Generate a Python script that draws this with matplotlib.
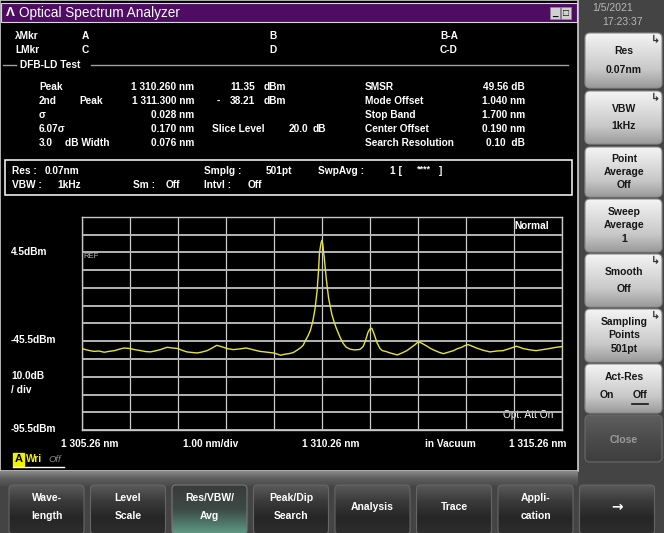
import numpy as np
import matplotlib
matplotlib.use('Agg')
import matplotlib.pyplot as plt
from matplotlib.patches import Rectangle, FancyBboxPatch

plt.rcParams['font.family'] = ['Liberation Sans', 'DejaVu Sans']

# trace (nm, dBm)
wavelength = [1305.26, 1305.35, 1305.45, 1305.52, 1305.62, 1305.73, 1305.83, 1305.94, 1306.04, 1306.14,
              1306.26, 1306.36, 1306.49, 1306.59, 1306.69, 1306.80, 1306.90, 1306.97, 1307.04, 1307.15,
              1307.26, 1307.35, 1307.45, 1307.55, 1307.66, 1307.76, 1307.87, 1307.97, 1308.07, 1308.14,
              1308.21, 1308.30, 1308.42, 1308.55, 1308.69, 1308.83, 1308.97, 1309.10, 1309.25, 1309.32,
              1309.40, 1309.47, 1309.59, 1309.67, 1309.74, 1309.81, 1309.87, 1309.92, 1309.97, 1310.02,
              1310.07, 1310.10, 1310.12, 1310.16, 1310.19, 1310.21, 1310.24, 1310.26, 1310.28, 1310.31,
              1310.35, 1310.40, 1310.47, 1310.52, 1310.56, 1310.64, 1310.70, 1310.76, 1310.85, 1310.95,
              1311.05, 1311.12, 1311.17, 1311.22, 1311.26, 1311.30, 1311.34, 1311.41, 1311.47, 1311.52,
              1311.60, 1311.67, 1311.75, 1311.83, 1311.92, 1312.03, 1312.12, 1312.20, 1312.26, 1312.31,
              1312.38, 1312.45, 1312.53, 1312.62, 1312.70, 1312.79, 1312.90, 1313.00, 1313.08, 1313.17,
              1313.24, 1313.31, 1313.40, 1313.48, 1313.62, 1313.76, 1313.90, 1314.03, 1314.17, 1314.31,
              1314.38, 1314.45, 1314.58, 1314.72, 1314.86, 1315.00, 1315.12, 1315.26]
level = [-49.6, -50.3, -50.9, -51.2, -51.0, -51.7, -51.2, -50.8, -50.0, -49.3,
         -49.6, -50.2, -50.8, -51.3, -51.5, -50.9, -50.2, -49.5, -48.9, -49.3,
         -49.6, -50.6, -51.5, -51.8, -52.1, -51.6, -50.8, -49.4, -47.8, -48.3,
         -48.9, -49.7, -50.2, -49.8, -49.3, -50.3, -51.2, -51.6, -52.1, -52.6,
         -53.4, -52.9, -52.4, -51.8, -50.6, -49.3, -47.8, -45.0, -42.5, -39.5,
         -34.4, -30.0, -26.8, -17.4, -6.1, 4.0, 9.5, 11.35, 9.0, 1.5,
         -9.8, -21.2, -30.6, -35.0, -38.1, -43.3, -46.5, -48.7, -50.0, -50.4,
         -50.1, -48.5, -45.0, -40.5, -38.6, -38.21, -40.8, -46.4, -49.6, -50.8,
         -51.3, -52.0, -52.6, -53.2, -52.2, -50.8, -49.0, -47.4, -46.0, -46.2,
         -47.2, -48.3, -49.7, -50.8, -51.7, -52.5, -51.6, -50.8, -49.7, -48.9,
         -47.9, -47.4, -48.4, -49.3, -50.6, -51.5, -51.0, -50.8, -49.6, -48.3,
         -48.9, -49.6, -50.3, -50.8, -50.2, -49.6, -49.0, -48.5]

marker_rows = [('Peak', '', '1 310.260 nm'), ('2nd', 'Peak', '1 311.300 nm'), ('σ', '', '0.028 nm'),
               ('6.07σ', '', '0.170 nm'), ('3.0', 'dB Width', '0.076 nm')]
result_names = ['SMSR', 'Mode Offset', 'Stop Band', 'Center Offset', 'Search Resolution']
result_values = ['49.56 dB', '1.040 nm', '1.700 nm', '0.190 nm', '0.10  dB']
y_labels = [(252, '4.5dBm'), (340, '-45.5dBm'), (376, '10.0dB'), (390, '/ div'), (429, '-95.5dBm')]
x_labels = [(90, '1 305.26 nm'), (211, '1.00 nm/div'), (331, '1 310.26 nm'), (450, 'in Vacuum'), (538, '1 315.26 nm')]
side_buttons = [(33, 88, ['Res', '0.07nm'], True), (91, 144, ['VBW', '1kHz'], True),
                (147, 197, ['Point', 'Average', 'Off'], False), (199, 252, ['Sweep', 'Average', '1'], False),
                (254, 307, ['Smooth', 'Off'], True), (309, 362, ['Sampling', 'Points', '501pt'], True)]
tabs = [['Wave-', 'length'], ['Level', 'Scale'], ['Res/VBW/', 'Avg'], ['Peak/Dip', 'Search'],
        ['Analysis'], ['Trace'], ['Appli-', 'cation'], ['→']]

W, H = 664, 533
fig = plt.figure(figsize=(W / 100, H / 100), dpi=100)
bg = fig.add_axes([0, 0, 1, 1])
bg.set_axis_off()


def t(x, y, s, size=7.3, color='white', ha='left', weight='bold', **kw):
    bg.text(x, y, s, fontsize=size, color=color, ha=ha, va='center', fontweight=weight, **kw)


def grad_box(x0, y0, x1, y1, stops, rounded=4, edge='none'):
    n = 64
    pos = np.linspace(0, 1, len(stops))
    cols = np.array([matplotlib.colors.to_rgb(c) for c in stops])
    ramp = np.stack([np.interp(np.linspace(0, 1, n), pos, cols[:, k]) for k in range(3)], axis=1)
    img = bg.imshow(ramp[:, None, :], extent=[x0, x1, y1, y0], aspect='auto', zorder=2)
    box = FancyBboxPatch((x0, y0), x1 - x0, y1 - y0, boxstyle='round,pad=0,rounding_size=%d' % rounded,
                         facecolor='none', edgecolor=edge, lw=0.8, zorder=3)
    bg.add_patch(box)
    img.set_clip_path(box)


# backgrounds
bg.add_patch(Rectangle((0, 0), W, H, color='#444444', zorder=0))
bg.add_patch(Rectangle((0, 0), 578, 471, facecolor='black', edgecolor='#cfcfcf', lw=1.2, zorder=1))
bg.add_patch(Rectangle((1, 3), 576, 19, facecolor='#4e0c62', edgecolor='#d8d8d8', lw=0.8, zorder=1))
grad_box(0, 471, 578, 486, ['#8a8a8a', '#5e5e5e', '#4a4a4a'], rounded=0)

# title bar
t(6, 12.5, 'Λ', size=9.5)
t(19, 12.5, 'Optical Spectrum Analyzer', size=9.8, weight='normal')
for bx, glyph in [(550, '_'), (561, '□')]:
    bg.add_patch(Rectangle((bx, 7), 10, 12, facecolor='#d0d0d0', edgecolor='#888888', lw=0.6, zorder=3))
    t(bx + 5, 12.5, glyph, size=7, color='black', ha='center', zorder=4)

# marker header
t(15, 36, 'λMkr'); t(82, 36, 'A'); t(269, 36, 'B'); t(440, 36, 'B-A')
t(15, 50, 'LMkr'); t(82, 50, 'C'); t(269, 50, 'D'); t(440, 50, 'C-D')
bg.plot([3, 16], [65, 65], color='#a0a0a0', lw=1, zorder=2)
bg.plot([91, 568], [65, 65], color='#a0a0a0', lw=1, zorder=2)
t(20, 65, 'DFB-LD Test')

rows_y = [87, 101, 115, 129, 143]
for y, (a, b, v) in zip(rows_y, marker_rows):
    t(39, y, a)
    if b:
        t(79 if b == 'Peak' else 65, y, b)
    t(194, y, v, ha='right')
t(255, 87, '11.35', ha='right'); t(264, 87, 'dBm')
t(217, 101, '-'); t(255, 101, '38.21', ha='right'); t(264, 101, 'dBm')
t(212, 129, 'Slice Level'); t(308, 129, '20.0', ha='right'); t(313, 129, 'dB')
for y, name, val in zip(rows_y, result_names, result_values):
    t(365, y, name)
    t(525, y, val, ha='right')

# condition box
bg.add_patch(Rectangle((5, 160), 567, 35, facecolor='none', edgecolor='white', lw=1.1, zorder=2))
t(12, 171, 'Res :'); t(45, 171, '0.07nm')
t(204, 171, 'Smplg :'); t(266, 171, '501pt')
t(318, 171, 'SwpAvg :'); t(390, 171, '1 ['); t(417, 169, '****', size=6.5); t(439, 171, ']')
t(12, 185, 'VBW :'); t(57, 185, '1kHz')
t(133, 185, 'Sm :'); t(166, 185, 'Off')
t(204, 185, 'Intvl :'); t(248, 185, 'Off')

# axis labels
for y, s in y_labels:
    t(11, y, s)
for x, s in x_labels:
    t(x, 444, s, ha='center')
t(83, 256, 'REF', size=5.5, color='#bbbbbb', weight='normal', zorder=6)
t(549, 226, 'Normal', ha='right', zorder=6)
t(553, 415, 'Opt. Att On', ha='right', weight='normal', zorder=6)

# trace A status
bg.add_patch(Rectangle((13, 453), 11, 13, color='#f2f200', zorder=2))
t(18.5, 459.5, 'A', color='black', ha='center', size=8)
t(26, 459.5, 'Wri', color='#f2f200')
t(48, 460, 'Off', color='#8a8a8a', weight='normal', style='italic', size=6.8)
bg.plot([13, 64], [467, 467], color='white', lw=1, zorder=2)

# bottom tabs
for i, lines in enumerate(tabs):
    x0 = 9 + i * 81.5
    if i == 2:
        grad_box(x0, 485, x0 + 75, 534, ['#3a3a3a', '#3c4a45', '#5f9b86'], edge='#777777')
    else:
        grad_box(x0, 485, x0 + 75, 534, ['#5a5a5a', '#3a3a3a', '#262626', '#2e2e2e'], edge='#666666')
    cx = x0 + 37.5
    if len(lines) == 2:
        t(cx, 498, lines[0], ha='center', size=7.5, zorder=5)
        t(cx, 516, lines[1], ha='center', size=7.5, zorder=5)
    else:
        t(cx, 507, lines[0], ha='center', size=7.5 if lines[0] != '→' else 10, zorder=5,
          family=['DejaVu Sans'] if lines[0] == '→' else None)

# right panel
t(613, 8, '1/5/2021', color='#b8b8b8', weight='normal', ha='center', size=7.5)
t(622, 22, '17:23:37', color='#b8b8b8', weight='normal', ha='center', size=7.5)
light = ['#f4f4f4', '#dedede', '#c8c8c8', '#9a9a9a']
for y0, y1, lines, arrow in side_buttons:
    grad_box(585, y0, 662, y1, light, rounded=5, edge='#8a8a8a')
    n = len(lines)
    ys = [y0 + (y1 - y0) * (k + 1) / (n + 1) for k in range(n)]
    for y, s in zip(ys, lines):
        t(624, y, s, color='#161616', ha='center', size=7.5, zorder=5)
    if arrow:
        t(656, y0 + 7, '↳', color='#333333', ha='center', size=8, zorder=5, family=['DejaVu Sans'])
grad_box(585, 364, 662, 413, light, rounded=5, edge='#8a8a8a')
t(624, 377, 'Act-Res', color='#161616', ha='center', size=7.5, zorder=5)
t(607, 395, 'On', color='#161616', ha='center', size=7.5, zorder=5)
t(640, 395, 'Off', color='#161616', ha='center', size=7.5, zorder=5)
bg.plot([632, 648], [404, 404], color='#161616', lw=1.2, zorder=5)
grad_box(585, 415, 662, 462, ['#5e5e5e', '#4c4c4c', '#3e3e3e'], rounded=5, edge='#6a6a6a')
t(624, 440, 'Close', color='#9a9a9a', ha='center', size=7.5, zorder=5)

bg.set_xlim(0, W)
bg.set_ylim(H, 0)

# spectrum grid
ax = fig.add_axes([81.7 / W, 1 - 430 / H, 480.3 / W, 213 / H])
ax.set_facecolor('none')
ax.plot(wavelength, level, color='#e4e43c', lw=1.0, zorder=3)
ax.set_xlim(1305.26, 1315.26)
ax.set_ylim(-95.5, 24.5)
ax.set_xticks(np.arange(1305.26, 1315.27, 1.0))
ax.set_yticks(np.arange(-95.5, 24.6, 10.0))
ax.tick_params(length=0, labelbottom=False, labelleft=False)
ax.grid(axis='y', color='#b4b4b4', lw=1.4)
ax.grid(axis='x', color='#cccccc', lw=0.9)
for sp in ax.spines.values():
    sp.set_color('#c8c8c8')
    sp.set_linewidth(1.0)

plt.savefig('out.png', dpi=100, facecolor='#444444')
